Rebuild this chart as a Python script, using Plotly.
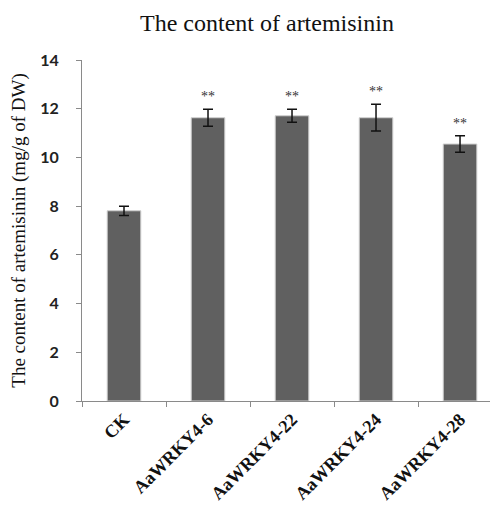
import plotly.graph_objects as go

categories = ["CK", "AaWRKY4-6", "AaWRKY4-22", "AaWRKY4-24", "AaWRKY4-28"]
values = [7.81, 11.63, 11.71, 11.63, 10.55]
errors = [0.19, 0.35, 0.27, 0.55, 0.34]
marks = ["", "**", "**", "**", "**"]

W, H = 490, 503  # page body has 8px margin

fig = go.Figure()
fig.add_trace(go.Bar(
    x=categories, y=values, width=0.4,
    marker=dict(color="#606060", line=dict(color="#d0d0d0", width=1)),
    error_y=dict(type="data", array=errors, visible=True, color="#111111",
                 thickness=1.5, width=5),
))

for c, v, e, m in zip(categories, values, errors, marks):
    if m:
        fig.add_annotation(x=c, y=v + e, text=m, showarrow=False,
                           yanchor="bottom", yshift=3,
                           font=dict(family="Liberation Serif", size=14, color="#333333"))

fig.update_layout(
    width=W, height=H,
    margin=dict(l=74, r=0, t=52, b=110),
    paper_bgcolor="white", plot_bgcolor="white",
    showlegend=False,
    title=dict(text="The content of artemisinin", x=259 / W, xanchor="center",
               y=1 - 15 / H, yanchor="middle",
               font=dict(family="Liberation Serif", size=24, color="#111111")),
    xaxis=dict(
        range=[-0.5, 4.452], showline=True, linecolor="#8a8a8a", linewidth=1,
        ticks="outside", tickson="boundaries", ticklen=5, tickcolor="#8a8a8a",
        tickangle=-45, showgrid=False,
        tickfont=dict(family="Liberation Serif", size=18, color="#111111", weight="bold"),
    ),
    yaxis=dict(
        range=[0, 14], dtick=2, showline=True, linecolor="#8a8a8a", linewidth=1,
        ticks="outside", ticklen=5, tickcolor="#8a8a8a", showgrid=False,
        zeroline=False, ticklabelstandoff=14,
        tickfont=dict(family="Lato", size=16, color="#222222", weight="bold"),
        title=dict(text="The content of artemisinin (mg/g of DW)", standoff=10,
                   font=dict(family="Liberation Serif", size=19, color="#111111")),
    ),
)

fig.write_html("out.html")
